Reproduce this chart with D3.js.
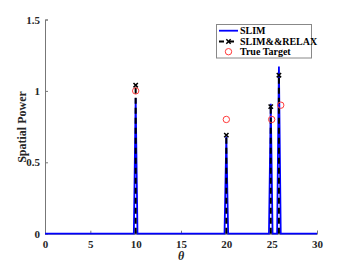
<!DOCTYPE html>
<html lang="en">
<head>
<meta charset="utf-8">
<script src="https://d3js.org/d3.v7.min.js"></script>
<style>
  body { margin: 0; background: #fff; }
  text { font-family: "Liberation Serif", "Times New Roman", serif; font-weight: bold; }
</style>
</head>
<body>
<svg id="svg" width="350" height="263"></svg>
<script>
// SLIM spectrum (theta in degrees, spatial power)
var slimTheta = [0, 9.8, 10.0, 10.2, 19.8, 20.0, 20.2, 24.7, 24.9, 25.1, 25.6, 25.8, 26.0, 30];
var slimPower = [0, 0, 0.95, 0, 0, 0.68, 0, 0, 0.91, 0, 0, 1.17, 0, 0];
// SLIM&&RELAX estimates
var relaxTheta = [10.0, 20.0, 24.9, 25.8];
var relaxPower = [1.04, 0.69, 0.89, 1.11];
// true targets
var trueTheta = [10, 20, 25, 26];
var truePower = [1.0, 0.8, 0.8, 0.9];

var xTicks = [0, 5, 10, 15, 20, 25, 30];
var yTicks = [0, 0.5, 1, 1.5];
var legendLabels = ["SLIM", "SLIM&&RELAX", "True Target"];

var svg = d3.select("#svg");
var x = d3.scaleLinear().domain([0, 30]).range([45, 317]);
var y = d3.scaleLinear().domain([0, 1.5]).range([233.7, 19.5]);

// axes (ticks point inward like matlab)
var gx = svg.append("g").attr("transform", "translate(0," + y(0) + ")")
    .call(d3.axisBottom(x).tickValues(xTicks).tickSize(-3).tickPadding(7).tickFormat(d3.format("d")));
var gy = svg.append("g").attr("transform", "translate(" + x(0) + ",0)")
    .call(d3.axisLeft(y).tickValues(yTicks).tickSize(-3).tickPadding(5).tickFormat(function(d){ return d; }));
[gx, gy].forEach(function(g){
  g.select(".domain").attr("stroke", "#777").attr("stroke-width", 1);
  g.selectAll(".tick line").attr("stroke", "#777");
  g.selectAll(".tick text").attr("fill", "#262626").style("font-size", "11px")
    .style("font-family", "'Liberation Serif', serif").style("font-weight", "bold");
});

// SLIM line
var slim = slimTheta.map(function(t, i){ return [t, slimPower[i]]; });
svg.append("path").datum(slim)
  .attr("fill", "none").attr("stroke", "#0000ff").attr("stroke-width", 1.8)
  .attr("d", d3.line().x(function(d){ return x(d[0]); }).y(function(d){ return y(d[1]); }));

// SLIM&&RELAX dashed stems with x markers
relaxTheta.forEach(function(t, i){
  svg.append("line")
    .attr("x1", x(t)).attr("x2", x(t)).attr("y1", y(0)).attr("y2", y(relaxPower[i]))
    .attr("stroke", "#000").attr("stroke-width", 2).attr("stroke-dasharray", "6,4");
  svg.append("path")
    .attr("d", d3.symbol(d3.symbolX, 14)())
    .attr("transform", "translate(" + x(t) + "," + y(relaxPower[i]) + ")")
    .attr("stroke", "#000").attr("stroke-width", 1.5);
});

// true targets
svg.selectAll("circle.tt").data(trueTheta).enter().append("circle")
  .attr("class", "tt")
  .attr("cx", function(d){ return x(d); })
  .attr("cy", function(d, i){ return y(truePower[i]); })
  .attr("r", 3.2).attr("fill", "none").attr("stroke", "#ff3b3b").attr("stroke-width", 1);

// axis labels
svg.append("text").attr("x", 181).attr("y", 260).attr("text-anchor", "middle")
  .style("font-size", "12px").style("font-style", "italic").attr("fill", "#262626").text("θ");
svg.append("text").attr("transform", "translate(26,127) rotate(-90)").attr("text-anchor", "middle")
  .style("font-size", "12px").attr("fill", "#262626").text("Spatial Power");

// legend
var lg = svg.append("g");
lg.append("rect").attr("x", 216.5).attr("y", 24.5).attr("width", 95).attr("height", 33.5)
  .attr("fill", "#fff").attr("stroke", "#888").attr("stroke-width", 1);
var rowY = [30.7, 41.5, 51.7];
lg.append("line").attr("x1", 219).attr("x2", 238).attr("y1", rowY[0]).attr("y2", rowY[0])
  .attr("stroke", "#0000ff").attr("stroke-width", 1.8);
lg.append("line").attr("x1", 219).attr("x2", 238).attr("y1", rowY[1]).attr("y2", rowY[1])
  .attr("stroke", "#000").attr("stroke-width", 2).attr("stroke-dasharray", "5,5");
lg.append("path").attr("d", d3.symbol(d3.symbolX, 14)())
  .attr("transform", "translate(228.5," + rowY[1] + ")").attr("stroke", "#000").attr("stroke-width", 1.5);
lg.append("circle").attr("cx", 228.5).attr("cy", rowY[2]).attr("r", 3.2)
  .attr("fill", "none").attr("stroke", "#ff3b3b").attr("stroke-width", 1);
legendLabels.forEach(function(s, i){
  lg.append("text").attr("x", 240).attr("y", rowY[i]).attr("dy", "0.35em")
    .style("font-size", "10px").attr("fill", "#000").text(s);
});
</script>
</body>
</html>
